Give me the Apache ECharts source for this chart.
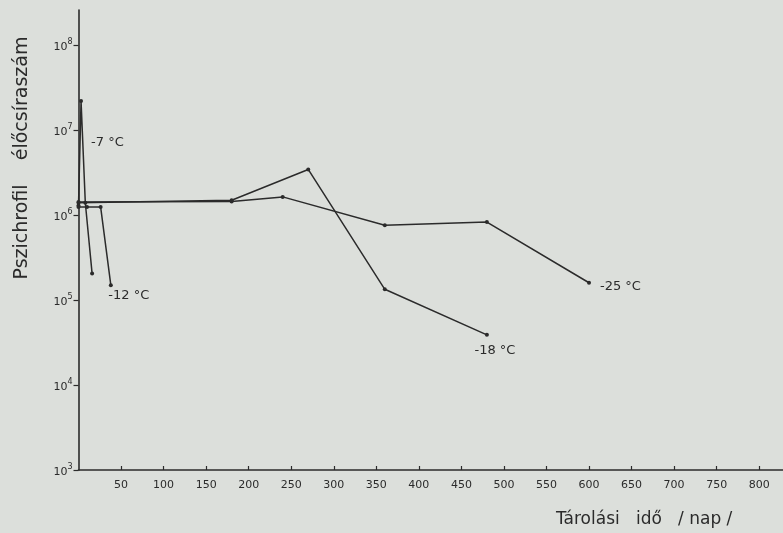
<!DOCTYPE html>
<html>
<head>
<meta charset="utf-8">
<script src="https://cdn.jsdelivr.net/npm/echarts@6/dist/echarts.min.js"></script>
<style>
  html, body { margin: 0; padding: 0; background: #dcdfdb; }
  #chart { width: 783px; height: 533px; }
</style>
</head>
<body>
<div id="chart"></div>
<script>
// Psychrotrophic viable count during frozen storage (days vs. count, log scale)
const xTicks = [50, 100, 150, 200, 250, 300, 350, 400, 450, 500, 550, 600, 650, 700, 750, 800];
const yTicks = [1e3, 1e4, 1e5, 1e6, 1e7, 1e8];

const days_m7  = [0, 3, 8, 16];
const count_m7 = [1.3e6, 2.2e7, 1.4e6, 2.05e5];

const days_m12  = [0, 10, 26, 38];
const count_m12 = [1.25e6, 1.25e6, 1.25e6, 1.5e5];

const days_m18  = [0, 180, 270, 360, 480];
const count_m18 = [1.4e6, 1.5e6, 3.45e6, 1.34e5, 3.9e4];

const days_m25  = [0, 180, 240, 360, 480, 600];
const count_m25 = [1.43e6, 1.45e6, 1.64e6, 7.6e5, 8.3e5, 1.6e5];

const seriesNames = ['-7 °C', '-12 °C', '-18 °C', '-25 °C'];

const ink = '#2b2b2b';
const font = 'DejaVu Sans';

function pairs(xs, ys) { return xs.map((x, i) => [x, ys[i]]); }

function withLabel(points, idx, text, labelCfg) {
  return points.map((p, i) => {
    if (i !== idx) return p;
    return { value: p, label: Object.assign({ show: true, formatter: text, color: ink, fontFamily: font, fontSize: 13 }, labelCfg) };
  });
}

function lineSeries(name, data) {
  return {
    name: name,
    type: 'line',
    data: data,
    symbol: 'circle',
    symbolSize: 4,
    showAllSymbol: true,
    itemStyle: { color: ink },
    lineStyle: { color: ink, width: 1.5 },
    animation: false,
    z: 3
  };
}

const chart = echarts.init(document.getElementById('chart'), null, { renderer: 'canvas' });

chart.setOption({
  backgroundColor: '#dcdfdb',
  animation: false,
  grid: { left: 78.5, right: 0, top: 10, bottom: 63 },
  xAxis: {
    type: 'value',
    min: 0,
    max: 828,
    axisLine: { show: true, lineStyle: { color: ink, width: 1.6 } },
    axisTick: { show: true, inside: true, length: 4, customValues: xTicks, lineStyle: { color: ink, width: 1.2 } },
    axisLabel: { customValues: xTicks, margin: 10, color: ink, fontFamily: font, fontSize: 11 },
    splitLine: { show: false }
  },
  yAxis: {
    type: 'log',
    logBase: 10,
    min: 1e3,
    max: 2.6e8,
    axisLine: { show: true, lineStyle: { color: ink, width: 1.6 } },
    axisTick: { show: true, length: 5, customValues: yTicks, lineStyle: { color: ink, width: 1.2 } },
    axisLabel: {
      customValues: yTicks,
      margin: 6,
      formatter: function (v) {
        const e = Math.round(Math.log10(v));
        return '{b|10}{s|' + e + '}';
      },
      rich: {
        b: { fontFamily: font, fontSize: 11, color: ink, verticalAlign: 'bottom' },
        s: { fontFamily: font, fontSize: 8, color: ink, verticalAlign: 'top', padding: [0, 0, 7, 0] }
      }
    },
    splitLine: { show: false }
  },
  graphic: [
    {
      type: 'text',
      rotation: Math.PI / 2,
      style: {
        text: 'Pszichrofil    élőcsíraszám',
        fontFamily: font,
        fontSize: 19,
        fill: ink,
        align: 'center',
        verticalAlign: 'middle'
      },
      x: 22, y: 158
    },
    {
      type: 'text',
      style: {
        text: 'Tárolási   idő   / nap /',
        fontFamily: font,
        fontSize: 17,
        fill: ink,
        align: 'left',
        verticalAlign: 'middle'
      },
      x: 556, y: 520
    }
  ],
  series: [
    lineSeries(seriesNames[0], withLabel(pairs(days_m7, count_m7), 1, seriesNames[0], { position: 'right', offset: [3, 42] })),
    lineSeries(seriesNames[1], withLabel(pairs(days_m12, count_m12), 3, seriesNames[1], { position: 'bottom', offset: [18, -3] })),
    lineSeries(seriesNames[2], withLabel(pairs(days_m18, count_m18), 4, seriesNames[2], { position: 'bottom', offset: [8, 2] })),
    lineSeries(seriesNames[3], withLabel(pairs(days_m25, count_m25), 5, seriesNames[3], { position: 'right', offset: [4, 4] }))
  ]
});
</script>
</body>
</html>
